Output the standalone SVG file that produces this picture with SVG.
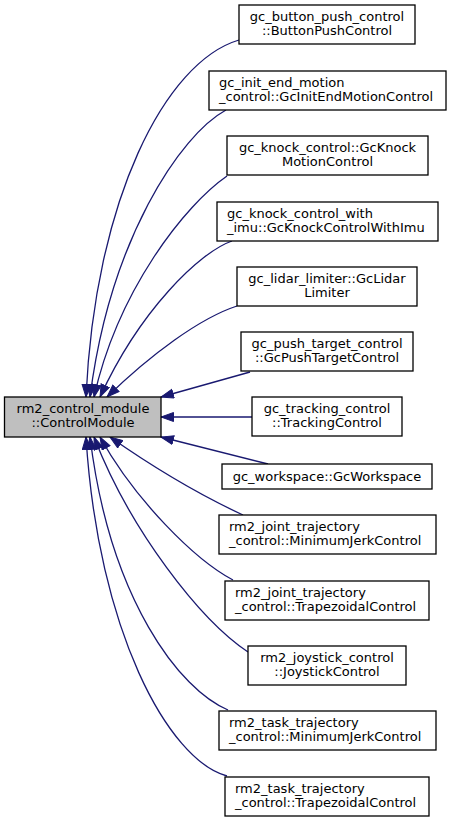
<svg xmlns="http://www.w3.org/2000/svg" width="451" height="823" viewBox="0 0 451 823">
<style>
.n rect{fill:#fff;stroke:#000;stroke-width:1.3}
.m rect{fill:#bfbfbf;stroke:#000;stroke-width:1.3}
text{font-family:"DejaVu Sans","Liberation Sans",sans-serif;font-size:13px;fill:#000}
.c{text-anchor:middle}
.l{text-anchor:start}
.e path{fill:none;stroke:#191970;stroke-width:1.3;marker-end:url(#arr)}
</style>
<defs>
<marker id="arr" markerUnits="userSpaceOnUse" markerWidth="15" markerHeight="11" refX="13" refY="5" orient="auto">
<path d="M0.5,0.5 L13,5 L0.5,9.5 z" fill="#191970" stroke="#191970" stroke-width="1"/>
</marker>
</defs>
<g class="e" id="edges">
<path d="M239,40 C165,62 95,200 86,397"/>
<path d="M226,110 C180,135 110,240 90,397"/>
<path d="M227,176 C185,205 118,290 94,397"/>
<path d="M232,241 C200,252 140,310 100,397"/>
<path d="M237,306 C200,318 150,355 107,397"/>
<path d="M250,372 L161,397"/>
<path d="M252,417 L161,417"/>
<path d="M268,464 L161,437"/>
<path d="M243,515 C200,495 150,465 110,437"/>
<path d="M233,580 C195,560 135,500 100,437"/>
<path d="M248,652 C200,620 130,530 94,437"/>
<path d="M228,710 C180,690 110,600 90,437"/>
<path d="M227,776 C168,760 98,630 86,437"/>
</g>
<g class="m" id="node_main">
<rect x="4.5" y="397" width="156.5" height="40"/>
<text class="c" x="83" y="413">rm2_control_module</text>
<text class="c" x="83" y="427">::ControlModule</text>
</g>
<g class="n" id="node_button">
<rect x="239" y="5" width="176" height="39"/>
<text class="c" x="327" y="21">gc_button_push_control</text>
<text class="c" x="327" y="35">::ButtonPushControl</text>
</g>
<g class="n" id="node_initend">
<rect x="209" y="71" width="237" height="39"/>
<text class="l" x="219" y="87">gc_init_end_motion</text>
<text class="l" x="219" y="101">_control::GcInitEndMotionControl</text>
</g>
<g class="n" id="node_knock">
<rect x="227" y="136" width="201" height="39"/>
<text class="c" x="327.5" y="152">gc_knock_control::GcKnock</text>
<text class="c" x="327.5" y="166">MotionControl</text>
</g>
<g class="n" id="node_knockimu">
<rect x="217" y="202" width="221" height="39"/>
<text class="l" x="227" y="218">gc_knock_control_with</text>
<text class="l" x="227" y="232">_imu::GcKnockControlWithImu</text>
</g>
<g class="n" id="node_lidar">
<rect x="237" y="267" width="180" height="39"/>
<text class="c" x="327" y="283">gc_lidar_limiter::GcLidar</text>
<text class="c" x="327" y="297">Limiter</text>
</g>
<g class="n" id="node_push">
<rect x="241" y="332" width="172" height="39"/>
<text class="c" x="327" y="348">gc_push_target_control</text>
<text class="c" x="327" y="362">::GcPushTargetControl</text>
</g>
<g class="n" id="node_tracking">
<rect x="252" y="397" width="150" height="39"/>
<text class="c" x="327" y="413">gc_tracking_control</text>
<text class="c" x="327" y="427">::TrackingControl</text>
</g>
<g class="n" id="node_workspace">
<rect x="222" y="464" width="210" height="25"/>
<text class="c" x="327" y="481">gc_workspace::GcWorkspace</text>
</g>
<g class="n" id="node_jointmj">
<rect x="219" y="515" width="217" height="39"/>
<text class="l" x="229" y="531">rm2_joint_trajectory</text>
<text class="l" x="229" y="545">_control::MinimumJerkControl</text>
</g>
<g class="n" id="node_jointtrap">
<rect x="225" y="581" width="204" height="39"/>
<text class="l" x="235" y="597">rm2_joint_trajectory</text>
<text class="l" x="235" y="611">_control::TrapezoidalControl</text>
</g>
<g class="n" id="node_joystick">
<rect x="248" y="646" width="158" height="39"/>
<text class="c" x="327" y="662">rm2_joystick_control</text>
<text class="c" x="327" y="676">::JoystickControl</text>
</g>
<g class="n" id="node_taskmj">
<rect x="219" y="711" width="217" height="39"/>
<text class="l" x="229" y="727">rm2_task_trajectory</text>
<text class="l" x="229" y="741">_control::MinimumJerkControl</text>
</g>
<g class="n" id="node_tasktrap">
<rect x="225" y="777" width="204" height="39"/>
<text class="l" x="235" y="793">rm2_task_trajectory</text>
<text class="l" x="235" y="807">_control::TrapezoidalControl</text>
</g>
</svg>
